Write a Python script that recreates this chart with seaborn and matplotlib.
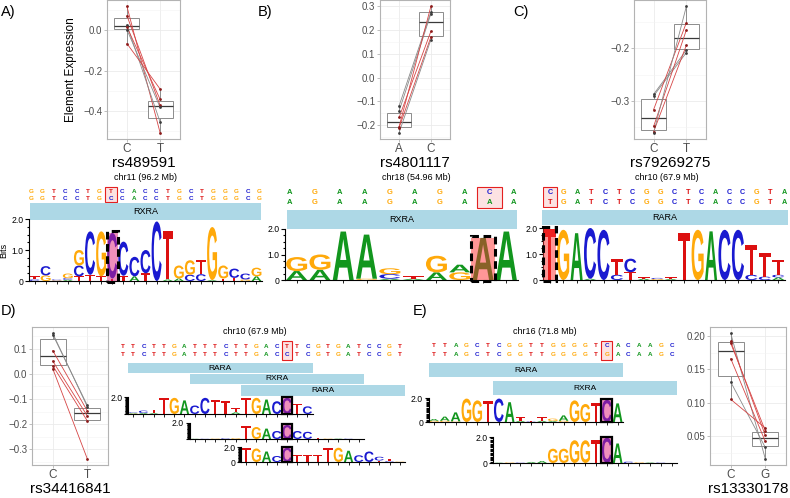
import matplotlib
matplotlib.use("Agg")
import pandas as pd
import seaborn as sns
import matplotlib.pyplot as plt
from matplotlib.patches import Rectangle, PathPatch
from matplotlib.textpath import TextPath
from matplotlib.font_manager import FontProperties
from matplotlib.transforms import Affine2D
from matplotlib.ticker import MultipleLocator

# ---- element expression, paired per element (r = red pair, g = grey pair)
a_alleles = ["C", "T"]
a_first = [0.118, 0.072, 0.026, 0.016, 0.003, -0.066]
a_second = [-0.507, -0.372, -0.454, -0.342, -0.382, -0.291]
a_pairs = "rrgrgr"

b_alleles = ["A", "C"]
b_first = [-0.119, -0.141, -0.168, -0.207, -0.211, -0.232]
b_second = [0.276, 0.269, 0.195, 0.300, 0.171, 0.160]
b_pairs = "ggrrrg"

c_alleles = ["C", "T"]
c_first = [-0.287, -0.290, -0.316, -0.348, -0.358, -0.360]
c_second = [-0.203, -0.208, -0.151, -0.165, -0.194, -0.120]
c_pairs = "ggrrrg"

d_alleles = ["C", "T"]
d_first = [0.162, 0.157, 0.093, 0.051, 0.033, 0.021]
d_second = [-0.130, -0.125, -0.147, -0.167, -0.187, -0.338]
d_pairs = "ggrrrr"

e_alleles = ["C", "G"]
e_first = [0.204, 0.192, 0.189, 0.166, 0.131, 0.105]
e_second = [0.016, 0.051, 0.058, 0.042, 0.033, 0.062]
e_pairs = "grrrgr"

# ---- sequences around each SNP (top / bottom allele), snp index
seq_a = ("GGTCCTGTCACCTGCTGGGCG", "GGTCCTGCCACCTGCTGGGCG", 7)
seq_b = ("AGAAGAGACA", "AGAAGAGAAA", 8)
seq_c = ("CGATCTCGGCTCACCGTA", "TGATCTCGGCTCACCGTA", 0)
seq_d = ("TTCTTGATTTCTTGACTTCGTGATCCGT", "TTCTTGATTTCTTGACCTCGTGATCCGT", 16)
seq_e = ("TTAGCTCGGTTGGGGTCACAAGC", "TTAGCTCGGTTGGGGTGACAAGC", 16)

# motifs (name, first index, last index)
motifs_d = [("RARA", 1, 18), ("RXRA", 7, 23), ("RARA", 12, 27)]
motifs_e = [("RARA", 0, 17), ("RXRA", 6, 22)]

# ---- motif logos: per position, letters stacked bottom -> top with bits
logo_a = [
    [("C", .05), ("T", .10)], [("G", .18), ("C", .30)], [("G", .02), ("C", .03)],
    [("A", .04), ("C", .05), ("G", .15)], [("T", .15), ("C", .35), ("G", .50)],
    [("T", .20), ("C", 1.40)], [("T", .15), ("G", 1.45)], [("T", .08), ("C", 1.47)],
    [("T", .17), ("C", 1.10)], [("A", .15), ("C", .63)], [("T", .25), ("C", .75)],
    [("C", 1.92)], [("A", .05), ("T", 1.55)], [("A", .08), ("G", .42)],
    [("C", .20), ("G", .47)], [("C", .22), ("T", .45)], [("A", .03), ("G", 1.71)],
    [("T", .08), ("G", .42)], [("T", .10), ("C", .30)], [("G", .05), ("C", .19)],
    [("A", .15), ("G", .28)],
]
logo_b = [
    [("A", .35), ("G", .55)], [("A", .40), ("G", .60)], [("A", 1.90)],
    [("G", .05), ("A", 1.73)], [("A", .05), ("C", .18), ("G", .23)],
    [("A", .05), ("T", .10)], [("A", .30), ("G", .65)], [("G", .30), ("A", .30)],
    [("A", 1.65)], [("A", 1.90)],
]
logo_c = [
    [("T", 1.95)], [("G", 1.93)], [("A", 1.80)], [("A", .05), ("C", 1.95)],
    [("C", 1.93)], [("C", .20), ("T", .60)], [("T", .30), ("C", .52)],
    [("A", .05), ("T", .05)], [("G", .04), ("C", .04)], [("A", .04), ("T", .06)],
    [("T", 1.80)], [("G", 1.93)], [("A", 1.87)], [("C", 1.93)], [("C", 1.93)],
    [("C", .20), ("T", 1.15)], [("C", .13), ("T", .90)],
    [("A", .10), ("C", .10), ("T", .57)],
]
logo_d1 = [
    [("G", .05), ("A", .08), ("C", .08)], [("A", .12), ("C", .28)], [("A", .10), ("T", .40)],
    [("T", 1.90)], [("G", 1.90)], [("A", 1.60)], [("C", 1.00)], [("C", 1.90)],
    [("T", 1.70)], [("T", 1.50)], [("A", .20), ("T", .50)], [("T", 1.90)],
    [("G", 1.90)], [("A", 1.70)], [("C", 1.50)], [("C", 1.90)], [("T", 1.20)],
    [("C", .90)],
]
logo_d2 = [
    [("A", .03)], [("C", .03)], [("G", .05)], [("C", .08)], [("G", .10)],
    [("T", 1.60)], [("G", 1.50)], [("A", 1.30)], [("C", 1.00)], [("C", 1.75)],
    [("C", 1.00)], [("C", .90)], [("T", .08)], [("G", .05)], [("A", .05)],
    [("C", .04)], [("T", .04)],
]
logo_d3 = [
    [("T", 1.90)], [("G", 1.80)], [("A", 1.40)], [("C", .80)], [("C", 1.90)],
    [("T", 1.00)], [("T", 1.00)], [("T", 1.00)], [("T", 1.90)], [("G", 1.90)],
    [("A", 1.50)], [("C", .90)], [("C", 1.40)], [("T", .20), ("C", .50)],
    [("C", .10), ("T", .35)], [("G", .05)],
]
logo_e1 = [
    [("G", .10), ("A", .15)], [("G", .10), ("A", .35)], [("G", .05), ("A", .75)],
    [("G", 1.95)], [("G", 1.80)], [("T", 1.75)], [("C", 1.95)], [("A", 1.65)],
    [("A", .10), ("T", .30)], [("C", .04), ("T", .08)], [("A", .10), ("T", .30)],
    [("A", .08), ("G", .20)], [("G", .10), ("A", .45)], [("G", 1.80)],
    [("G", 1.50)], [("T", 1.60)], [("C", 1.85)], [("A", 1.55)],
]
logo_e2 = [
    [("A", .03)], [("G", .04)], [("C", .03)], [("A", .08)], [("A", .15)],
    [("G", 1.10)], [("G", 1.10)], [("G", 1.75)], [("G", 1.75)], [("T", 1.75)],
    [("C", 1.95)], [("A", 1.50)], [("C", .10)], [("G", .05)], [("A", .04)],
    [("C", .03)], [("T", .03)],
]

NUC = {"A": "#12961E", "C": "#1A1AD0", "G": "#FFA90A", "T": "#DC1010"}
LINE_COL = {"r": "#D64545", "g": "#8A8A8A"}
DOT_COL = {"r": "#8B1A1A", "g": "#3C3C3C"}
BAR_COL = "#ADD8E6"

plt.rcParams["font.family"] = ["Liberation Sans", "DejaVu Sans"]
LOGO_FONT = FontProperties(family="Liberation Sans", weight="bold")

W, H = 790, 498
fig = plt.figure(figsize=(W / 100, H / 100), dpi=100)


def rect(x0, y0, x1, y1):
    # pixel box (top-left origin) -> figure fraction
    return [x0 / W, 1 - y1 / H, (x1 - x0) / W, (y1 - y0) / H]


def ftext(x, y, s, **kw):
    fig.text(x / W, 1 - y / H, s, **kw)


def expr_panel(box, alleles, first, second, pairs, step, rsid, ylabel=""):
    ax = fig.add_axes(rect(*box))
    df = pd.DataFrame({"allele": [alleles[0]] * len(first) + [alleles[1]] * len(second),
                       "value": first + second})
    sns.boxplot(data=df, x="allele", y="value", order=alleles, color="white",
                linecolor="#8C8C8C", linewidth=0.7, width=0.75, showfliers=False,
                medianprops={"color": "#3A3A3A", "linewidth": 0.9},
                capprops={"visible": False}, ax=ax)
    for v0, v1, p in zip(first, second, pairs):
        ax.plot([0, 1], [v0, v1], color=LINE_COL[p], lw=0.6, zorder=3)
        ax.scatter([0, 1], [v0, v1], color=DOT_COL[p], s=4, lw=0, zorder=4)
    lo, hi = min(first + second), max(first + second)
    pad = 0.05 * (hi - lo)
    ax.set_ylim(lo - pad, hi + pad)
    ax.set_xlim(-0.6, 1.6)
    ax.yaxis.set_major_locator(MultipleLocator(step))
    ax.yaxis.set_minor_locator(MultipleLocator(step / 2))
    ax.grid(which="major", color="#EBEBEB", lw=0.6)
    ax.grid(which="minor", axis="y", color="#F3F3F3", lw=0.4)
    ax.set_axisbelow(True)
    for s in ax.spines.values():
        s.set_color("#B3B3B3")
        s.set_linewidth(0.8)
    ax.tick_params(which="major", length=2, width=0.6, color="#B3B3B3", pad=1.5)
    ax.tick_params(which="minor", length=0)
    ax.tick_params(axis="y", labelsize=7, labelcolor="#4D4D4D")
    ax.tick_params(axis="x", labelsize=8.5, labelcolor="#4D4D4D", pad=1)
    ax.set_xlabel(rsid, fontsize=11, labelpad=0.5)
    ax.set_ylabel(ylabel, fontsize=8.5)
    return ax


def letter(ax, ch, x, y, h, w=0.9):
    tp = TextPath((0, 0), ch, size=1, prop=LOGO_FONT)
    bb = tp.get_extents()
    tr = (Affine2D().translate(-bb.x0, -bb.y0)
          .scale(w / bb.width, h / bb.height)
          .translate(x - w / 2, y))
    ax.add_patch(PathPatch(tr.transform_path(tp), fc=NUC[ch], ec="none", zorder=2))


def logo_panel(box, logo, start, hl, hl_col, dashed, yvals, ylabs, small=False):
    ax = fig.add_axes(rect(*box))
    pos = list(range(start, start + len(logo)))
    for x, col in zip(pos, logo):
        y = 0
        for ch, h in col:
            letter(ax, ch, x, y, h)
            y += h
    top = sum(h for _, h in logo[hl - start])
    ax.add_patch(Rectangle((hl - 0.5, 0), 1, top, fc=hl_col, alpha=0.5, ec="none", zorder=3))
    ax.add_patch(Rectangle((hl - 0.5, -0.03), 1, top + 0.1, fill=False, ec="black",
                           lw=2.2 if dashed else 1.6,
                           ls=(0, (2.5, 1.5)) if dashed else "-", zorder=4, clip_on=False))
    ax.set_xlim(start - 0.5, start + len(logo) - 0.5)
    ax.set_ylim(0, 2)
    ax.set_xticks(pos)
    ax.set_xticklabels([])
    ax.set_yticks(yvals)
    ax.set_yticklabels(ylabs)
    ax.yaxis.set_minor_locator(MultipleLocator(0.1 if small else 0.25))
    for s in ("top", "right"):
        ax.spines[s].set_visible(False)
    for s in ("left", "bottom"):
        ax.spines[s].set_linewidth(0.8)
    ax.tick_params(axis="x", length=2.5, width=0.6, pad=0)
    ax.tick_params(axis="y", which="major", length=3, width=0.8, labelsize=6.2, pad=1)
    ax.tick_params(axis="y", which="minor", length=2.5 if small else 1.5, width=0.8)
    ax.set_facecolor("none")
    return ax


def seq_panel(box, seq, rows, snp_box, fs, motifs=(), motif_rows=()):
    top, bottom, snp = seq
    ax = fig.add_axes(rect(*box))
    ax.set_xlim(-0.5, len(top) - 0.5)
    ax.set_ylim(box[3], box[1])
    ax.axis("off")
    for i, (t, b) in enumerate(zip(top, bottom)):
        ax.text(i, rows[0], t, color=NUC[t], fontsize=fs, weight="bold", ha="center", va="center")
        ax.text(i, rows[1], b, color=NUC[b], fontsize=fs, weight="bold", ha="center", va="center")
    ax.add_patch(Rectangle((snp - 0.5, snp_box[0]), 1, snp_box[1] - snp_box[0],
                           fc="#FCE2E2", ec="#E42020", lw=0.8, zorder=0))
    for (name, s, e), (y0, y1) in zip(motifs, motif_rows):
        ax.add_patch(Rectangle((s - 0.5, y0), e - s + 1, y1 - y0, fc=BAR_COL, ec="none",
                               clip_on=False))
        ax.text((s + e) / 2, (y0 + y1) / 2, name, fontsize=6, ha="center", va="center")
    return ax


def motif_bar(box, name, n):
    ax = fig.add_axes(rect(*box))
    ax.set_xlim(0.5, n + 0.5)
    ax.set_ylim(0, 1)
    ax.axis("off")
    ax.add_patch(Rectangle((0.5, 0), n, 1, fc=BAR_COL, ec="none"))
    ax.text((n + 1) / 2, 0.5, name, fontsize=6.5, ha="center", va="center")


PINK = "#E0207A"
SALMON = "#FF3030"
L3 = ([0, 1, 2], ["0", "1.0", "2.0"])

# ---------------- panel A
expr_panel((107, 0, 180, 139), a_alleles, a_first, a_second, a_pairs, 0.2, "rs489591",
           "Element Expression")
ftext(146, 177, "chr11 (96.2 Mb)", fontsize=6.5, ha="center", va="center")
seq_panel((25.3, 185, 264.7, 205), seq_a, (191, 198), (186.5, 202), 4.5)
motif_bar((30, 203, 261, 220), "RXRA", len(logo_a))
logo_panel((29, 219, 262, 281), logo_a, 1, 8, PINK, True, *L3)
ftext(4, 250, "Bits", fontsize=6.5, rotation=90, ha="center", va="center")

# ---------------- panel B
expr_panel((380, 0, 450, 139), b_alleles, b_first, b_second, b_pairs, 0.1, "rs4801117")
ftext(416, 177, "chr18 (54.96 Mb)", fontsize=6.5, ha="center", va="center")
seq_panel((277.5, 186, 526.5, 210), seq_b, (193, 203), (187, 208), 5.5)
motif_bar((287, 210, 517, 229), "RXRA", len(logo_b))
logo_panel((285, 229, 518, 280), logo_b, 1, 9, SALMON, True, *L3)

# ---------------- panel C
expr_panel((634, 0, 706, 139), c_alleles, c_first, c_second, c_pairs, 0.1, "rs79269275")
ftext(667, 177, "chr10 (67.9 Mb)", fontsize=6.5, ha="center", va="center")
seq_panel((543, 186, 791, 208), seq_c, (192, 203), (187, 207), 5.2)
motif_bar((542, 210, 788, 225), "RARA", len(logo_c))
logo_panel((543, 228, 785, 280), logo_c, 1, 1, SALMON, True, *L3)

# ---------------- panel D
expr_panel((32, 327, 108, 465), d_alleles, d_first, d_second, d_pairs, 0.1, "rs34416841")
ftext(255, 332, "chr10 (67.9 Mb)", fontsize=6.5, ha="center", va="center")
seq_panel((117.9, 338, 404.9, 398), seq_d, (346, 355), (341, 360), 4.5,
          motifs_d, [(363, 373), (374, 384), (385, 396)])
logo_panel((128.1, 397, 312.6, 414), logo_d1, 1, 16, PINK, False, [0, 2], ["", "2.0"], True)
logo_panel((189.6, 423, 363.9, 439), logo_d2, 7, 16, PINK, False, [0, 2], ["", "2.0"], True)
logo_panel((240.9, 447, 404.9, 462), logo_d3, 12, 16, PINK, False, [0, 2], ["0", "2.0"], True)

# ---------------- panel E
expr_panel((710, 327, 786, 465), e_alleles, e_first, e_second, e_pairs, 0.05, "rs13330178")
ftext(545, 332, "chr16 (71.8 Mb)", fontsize=6.5, ha="center", va="center")
seq_panel((428.6, 338, 677, 397), seq_e, (345, 354), (341, 360), 4.5,
          motifs_e, [(363, 377), (381, 395)])
logo_panel((428.6, 398, 623, 422), logo_e1, 0, 16, PINK, False, [0, 2], ["0", "2.0"], True)
logo_panel((493.4, 437, 677, 463), logo_e2, 6, 16, PINK, False, [0, 2], ["0", "2.0"], True)

for lab, x, y in [("A)", 1, 12), ("B)", 258, 12), ("C)", 513, 12), ("D)", 1, 311), ("E)", 413, 311)]:
    ftext(x, y, lab, fontsize=10.5, va="center")

fig.savefig("out.png", dpi=100)
